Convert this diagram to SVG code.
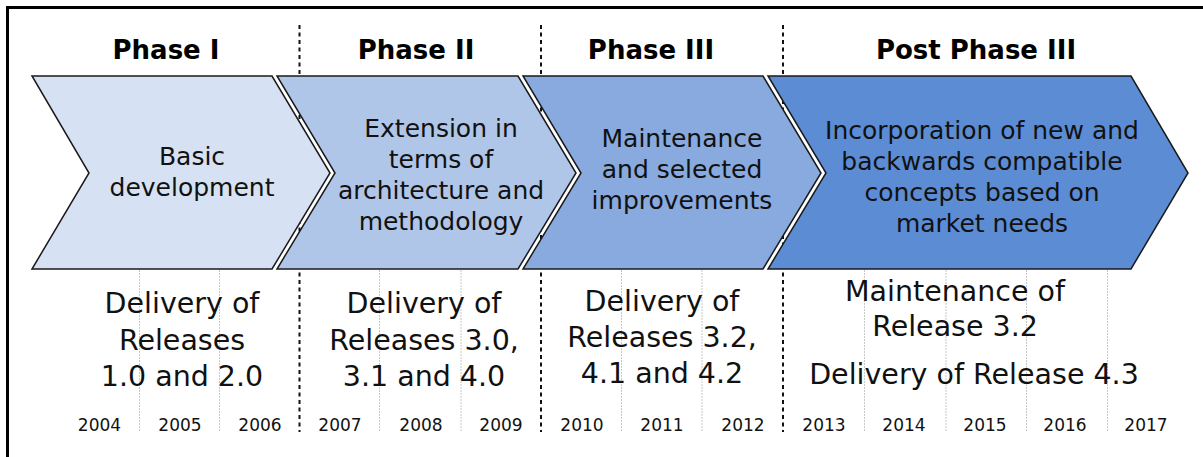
<svg xmlns="http://www.w3.org/2000/svg" width="1203" height="457" viewBox="0 0 1203 457">
<style>
  .frame{stroke:#000;stroke-width:3;fill:none}
  .phase{stroke:#111;stroke-width:2;stroke-dasharray:4 3.5;fill:none}
  .grid{stroke:#c8c8c8;stroke-width:1;stroke-dasharray:2 1;fill:none}
  .chev{stroke:#1a1a1a;stroke-width:1.5;stroke-linejoin:miter}
  .head{font-family:"DejaVu Sans",sans-serif;font-weight:bold;font-size:26px;fill:#000;text-anchor:middle}
  .body{font-family:"DejaVu Sans",sans-serif;font-size:25px;fill:#111;text-anchor:middle}
  .del{font-family:"DejaVu Sans",sans-serif;font-size:28.5px;fill:#111;text-anchor:middle}
  .year{font-family:"DejaVu Sans",sans-serif;font-size:17px;fill:#111;text-anchor:middle}
</style>
<rect width="1203" height="457" fill="#fff"/>
<path class="frame" d="M1203 7.5H7.5V457"/>
<g id="connectors">
  <line class="phase" x1="299.5" y1="25" x2="299.5" y2="432"/>
  <line class="phase" x1="541" y1="25" x2="541" y2="432"/>
  <line class="phase" x1="783" y1="25" x2="783" y2="432"/>
  <line class="grid" x1="139.5" y1="270" x2="139.5" y2="432"/>
  <line class="grid" x1="219.5" y1="270" x2="219.5" y2="432"/>
  <line class="grid" x1="379.5" y1="270" x2="379.5" y2="432"/>
  <line class="grid" x1="461" y1="270" x2="461" y2="432"/>
  <line class="grid" x1="621.5" y1="270" x2="621.5" y2="432"/>
  <line class="grid" x1="702" y1="270" x2="702" y2="432"/>
  <line class="grid" x1="864.5" y1="270" x2="864.5" y2="432"/>
  <line class="grid" x1="946" y1="270" x2="946" y2="432"/>
  <line class="grid" x1="1026.5" y1="270" x2="1026.5" y2="432"/>
  <line class="grid" x1="1107.5" y1="270" x2="1107.5" y2="432"/>
</g>
<g id="headings">
  <text class="head" x="166" y="59">Phase I</text>
  <text class="head" x="416" y="59">Phase II</text>
  <text class="head" x="651" y="59">Phase III</text>
  <text class="head" x="976" y="59">Post Phase III</text>
</g>
<g id="phase1">
  <polygon class="chev" fill="#d6e1f3" points="32,76 272,76 330,173 272,269 32,269 89,173"/>
  <text class="body" x="192" y="165">Basic</text>
  <text class="body" x="192" y="196">development</text>
</g>
<g id="phase2">
  <polygon class="chev" fill="#b0c6e8" points="277,76 518,76 576,173 518,269 277,269 335,173"/>
  <text class="body" x="441" y="137">Extension in</text>
  <text class="body" x="441" y="168">terms of</text>
  <text class="body" x="441" y="199">architecture and</text>
  <text class="body" x="441" y="230">methodology</text>
</g>
<g id="phase3">
  <polygon class="chev" fill="#88aade" points="523,76 763,76 821,173 763,269 523,269 581,173"/>
  <text class="body" x="682" y="147">Maintenance</text>
  <text class="body" x="682" y="178">and selected</text>
  <text class="body" x="682" y="209">improvements</text>
</g>
<g id="phase4">
  <polygon class="chev" fill="#5c8cd4" points="768,76 1131,76 1188,173 1131,269 768,269 826,173"/>
  <text class="body" x="982" y="139">Incorporation of new and</text>
  <text class="body" x="982" y="170">backwards compatible</text>
  <text class="body" x="982" y="201">concepts based on</text>
  <text class="body" x="982" y="232">market needs</text>
</g>
<g id="deliveries1">
  <text class="del" x="182" y="313">Delivery of</text>
  <text class="del" x="182" y="350">Releases</text>
  <text class="del" x="182" y="386">1.0 and 2.0</text>
</g>
<g id="deliveries2">
  <text class="del" x="424" y="313">Delivery of</text>
  <text class="del" x="424" y="350">Releases 3.0,</text>
  <text class="del" x="424" y="386">3.1 and 4.0</text>
</g>
<g id="deliveries3">
  <text class="del" x="662" y="311">Delivery of</text>
  <text class="del" x="662" y="347">Releases 3.2,</text>
  <text class="del" x="662" y="383">4.1 and 4.2</text>
</g>
<g id="deliveries4">
  <text class="del" x="955" y="301">Maintenance of</text>
  <text class="del" x="955" y="336">Release 3.2</text>
  <text class="del" x="974" y="384">Delivery of Release 4.3</text>
</g>
<g id="years">
  <text class="year" x="99.5" y="431">2004</text>
  <text class="year" x="180" y="431">2005</text>
  <text class="year" x="260" y="431">2006</text>
  <text class="year" x="340" y="431">2007</text>
  <text class="year" x="421" y="431">2008</text>
  <text class="year" x="501" y="431">2009</text>
  <text class="year" x="582" y="431">2010</text>
  <text class="year" x="662" y="431">2011</text>
  <text class="year" x="743" y="431">2012</text>
  <text class="year" x="824" y="431">2013</text>
  <text class="year" x="904" y="431">2014</text>
  <text class="year" x="985" y="431">2015</text>
  <text class="year" x="1065" y="431">2016</text>
  <text class="year" x="1146" y="431">2017</text>
</g>
</svg>
